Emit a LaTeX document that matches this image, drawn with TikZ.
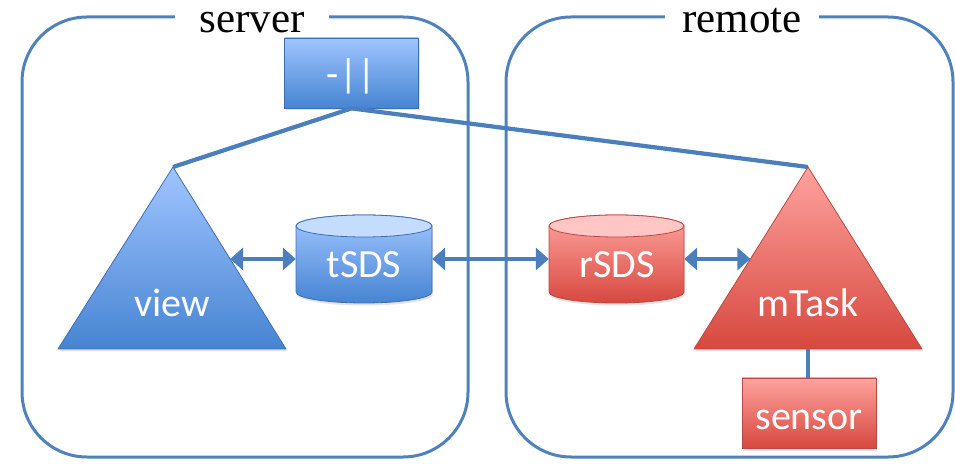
\documentclass[tikz,border=0pt]{standalone}
\usepackage{fontspec}
\newfontfamily\lblfont{Carlito}
\newfontfamily\tagfont{Liberation Serif}
\usetikzlibrary{arrows.meta,shadows}

\definecolor{frameblue}{RGB}{79,129,189}
\definecolor{linkblue}{RGB}{74,126,189}
\definecolor{blueedge}{RGB}{62,110,178}
\definecolor{bluetop}{RGB}{160,197,255}
\definecolor{bluebot}{RGB}{70,132,210}
\definecolor{bluecap}{RGB}{196,221,255}
\definecolor{rededge}{RGB}{186,72,68}
\definecolor{redtop}{RGB}{255,163,158}
\definecolor{redbot}{RGB}{214,72,63}
\definecolor{redcap}{RGB}{255,198,196}

\begin{document}
\begin{tikzpicture}[x=1pt,y=1pt,
  frame/.style={draw=frameblue, line width=3pt, rounded corners=65pt},
  tag/.style={fill=white, minimum width=154pt, inner xsep=0pt, inner ysep=4pt,
    anchor=base, font=\tagfont\fontsize{43}{50}\selectfont},
  softshadow/.style={drop shadow={opacity=0.22, shadow xshift=1pt, shadow yshift=-2.5pt}},
  blueshape/.style={draw=blueedge, line width=0.8pt, top color=bluetop, bottom color=bluebot, softshadow},
  redshape/.style={draw=rededge, line width=0.8pt, top color=redtop, bottom color=redbot, softshadow},
  boxnode/.style={minimum width=134pt, minimum height=70pt, inner sep=0pt},
  lbl/.style={text=white, inner sep=0pt, font=\lblfont\fontsize{40}{48}\selectfont},
  link/.style={draw=linkblue, line width=4.2pt},
  biarrow/.style={link, line width=4.5pt,
    {Triangle[length=13pt,width=22pt]}-{Triangle[length=13pt,width=22pt]}},
  anchorbox/.style={minimum width=136pt, minimum height=88pt, inner sep=0pt}
]
\useasboundingbox (0,0) rectangle (955,463);

% the two hosts
\draw[frame] (22,446) rectangle (468,6);
\draw[frame] (506,446) rectangle (953,6);
\node[tag] (lserver) at (252,430) {server};
\node[tag] (lremote) at (742,430) {remote};

% apexes of the two task triangles and their side points
\coordinate (view-top) at (173,296);
\coordinate (view-r) at (230.1,204);
\coordinate (mtask-top) at (808,296);
\coordinate (mtask-l) at (750.4,204);
\coordinate (mtask-base) at (808,114);

% control box and its links
\node[boxnode, blueshape] (ctl) at (351.5,390) {};
\node[lbl] (ctl-t) at (351.5,387) {-||};
\draw[link, line join=round] (view-top) -- (ctl.south) -- (mtask-top);

% view task (server side)
\path[blueshape] (view-top) -- (286,114) -- (58,114) -- cycle;
\node[lbl, anchor=base] (view) at (172,146) {view};

% mTask (remote side)
\path[redshape] (mtask-top) -- (922,114) -- (694,114) -- cycle;
\node[lbl, anchor=base] (mtask) at (808,146) {mTask};

% share stores drawn as cylinders
\path[blueshape] (296,237) -- (296,171) arc[start angle=180, end angle=360, x radius=68, y radius=11]
  -- (432,237) arc[start angle=0, end angle=180, x radius=68, y radius=11] -- cycle;
\path[draw=blueedge, line width=0.8pt, fill=bluecap] (364,237) ellipse[x radius=68, y radius=11];
\node[anchorbox] (tsds) at (364,204) {};
\node[lbl, anchor=base] (tsds-t) at (364,185) {tSDS};

\path[redshape] (549,237) -- (549,171) arc[start angle=180, end angle=360, x radius=67.5, y radius=11]
  -- (684,237) arc[start angle=0, end angle=180, x radius=67.5, y radius=11] -- cycle;
\path[draw=rededge, line width=0.8pt, fill=redcap] (616.5,237) ellipse[x radius=67.5, y radius=11];
\node[anchorbox, minimum width=135pt] (rsds) at (616.5,204) {};
\node[lbl, anchor=base] (rsds-t) at (617,185) {rSDS};

% sensor
\node[boxnode, redshape] (sensor) at (809,50) {};
\node[lbl, anchor=base] (sensor-t) at (809,34) {sensor};
\draw[link, line width=4pt] (mtask-base) -- (mtask-base |- sensor.north);

% data flows
\draw[biarrow] (view-r) -- (tsds.west);
\draw[biarrow] (tsds.east) -- (rsds.west);
\draw[biarrow] (rsds.east) -- (mtask-l);
\end{tikzpicture}
\end{document}
